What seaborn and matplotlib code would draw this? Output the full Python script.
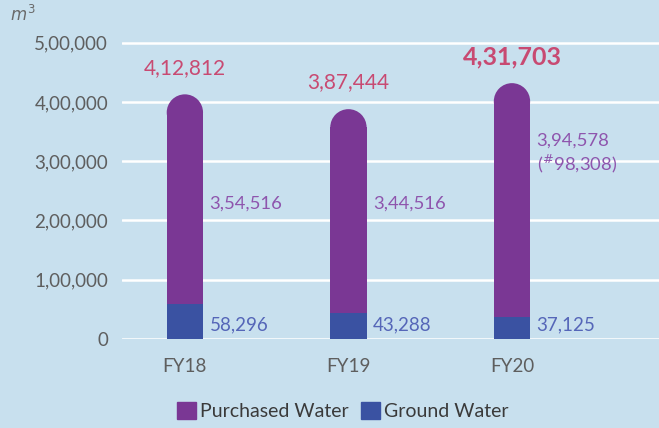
import numpy as np
import pandas as pd
import matplotlib
matplotlib.use("Agg")
import matplotlib.pyplot as plt
import seaborn as sns
from matplotlib.patches import Patch, Ellipse

years = ["FY18", "FY19", "FY20"]
purchased = [354516, 344516, 394578]
ground = [58296, 43288, 37125]
totals = [412812, 387444, 431703]
total_labels = ["4,12,812", "3,87,444", "4,31,703"]
purchased_labels = ["3,54,516", "3,44,516", "3,94,578\n($^{\\#}$98,308)"]
ground_labels = ["58,296", "43,288", "37,125"]
yticks = [0, 100000, 200000, 300000, 400000, 500000]
ytick_labels = ["0", "1,00,000", "2,00,000", "3,00,000", "4,00,000", "5,00,000"]

bg = "#c8e0ee"
purple = "#7a3794"
blue = "#3a52a2"

sns.set_theme(style="white")
plt.rcParams["font.family"] = ["Lato", "DejaVu Sans"]

fig = plt.figure(figsize=(6.59, 4.28), dpi=100, facecolor=bg)
ax = fig.add_axes([0.185, 0.208, 0.815, 0.72])
ax.set_facecolor(bg)

ymax = 520000
xmin, xmax = -0.385, 2.899
bar_w = 0.222

# cap radius in data units so the top looks round on screen
ax_w_px = 0.815 * 659
ax_h_px = 0.72 * 428
r_px = bar_w / (xmax - xmin) * ax_w_px / 2
r_y = r_px * ymax / ax_h_px

df = pd.DataFrame({"year": years, "purchased": purchased, "ground": ground, "total": totals})
df["body"] = df["ground"] + df["purchased"] - r_y

sns.barplot(data=df, x="year", y="body", color=purple, width=bar_w, saturation=1,
            linewidth=0, ax=ax, zorder=3)
sns.barplot(data=df, x="year", y="ground", color=blue, width=bar_w, saturation=1,
            linewidth=0, ax=ax, zorder=4)

for i, row in df.iterrows():
    top = row["ground"] + row["purchased"]
    ax.add_patch(Ellipse((i, top - r_y), bar_w, 2 * r_y, color=purple, zorder=3, lw=0))

ax.set_xlim(xmin, xmax)
ax.set_ylim(0, ymax)
ax.set_yticks(yticks)
ax.set_yticklabels(ytick_labels)
ax.grid(axis="y", color="white", lw=1.8, zorder=1)
ax.set_axisbelow(True)
sns.despine(ax=ax, left=True, bottom=True)
ax.tick_params(axis="both", length=0, labelsize=13.5, labelcolor="#5e5e5e")
ax.tick_params(axis="y", pad=10)
ax.tick_params(axis="x", pad=14)
ax.set_xlabel("")
ax.set_ylabel("")

# value labels
for i in range(3):
    top = ground[i] + purchased[i]
    bold = i == 2
    ax.text(i, top + 45000, total_labels[i], ha="center", va="center",
            color="#c84a72", fontsize=18 if bold else 15,
            fontweight="bold" if bold else "normal", zorder=5)
    right = i + bar_w / 2 + 0.04
    if i == 2:
        ax.text(right, 312000, purchased_labels[i], ha="left", va="center",
                color="#8e55ad", fontsize=13.3, linespacing=1.25, zorder=5)
    else:
        ax.text(right, 228000, purchased_labels[i], ha="left", va="center",
                color="#8e55ad", fontsize=13.3, zorder=5)
    ax.text(right, 23500, ground_labels[i], ha="left", va="center",
            color="#5566b8", fontsize=13.5, zorder=5)

fig.text(0.015, 0.967, "$m^3$", color="#6a6a6a", fontsize=12, ha="left", va="center",
         fontstyle="italic")

handles = [Patch(color=purple, label="Purchased Water"), Patch(color=blue, label="Ground Water")]
leg = fig.legend(handles=handles, loc="center", bbox_to_anchor=(0.52, 0.04), ncol=2,
                 frameon=False, fontsize=14, handlelength=1.0, handleheight=1.0,
                 handletextpad=0.2, columnspacing=0.6)
for t in leg.get_texts():
    t.set_color("#3a3a3a")

fig.savefig("out.png", dpi=100, facecolor=bg)
